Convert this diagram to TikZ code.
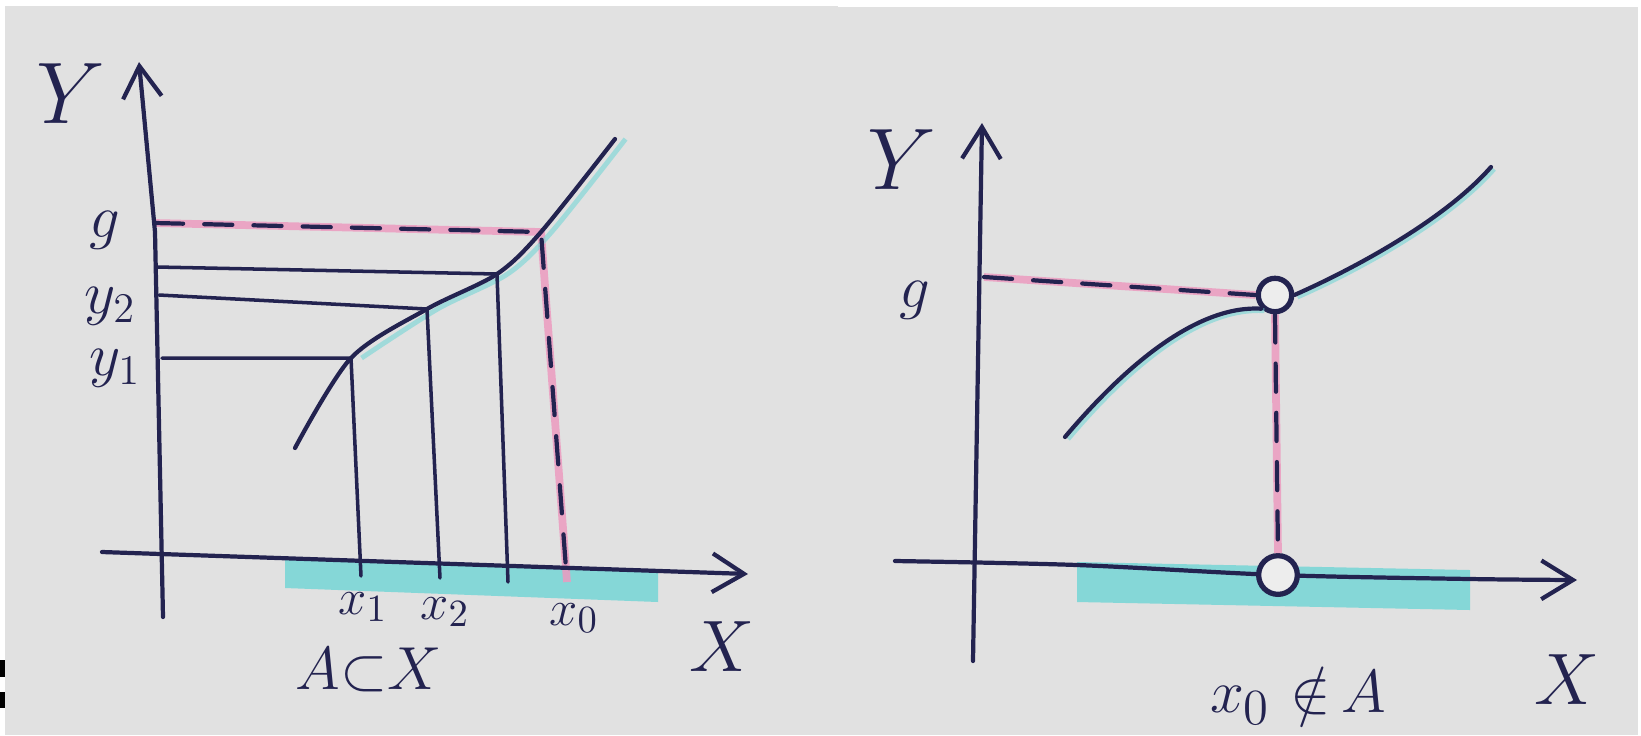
\documentclass[tikz,border=0pt]{standalone}
\usetikzlibrary{positioning,arrows.meta}
\definecolor{ink}{RGB}{35,35,80}
\definecolor{paper}{RGB}{225,225,225}
\definecolor{hlpink}{RGB}{236,155,192}
\definecolor{hlcyan}{RGB}{118,214,214}
\begin{document}
\begin{tikzpicture}[x=0.01cm, y=-0.01cm,
    pen/.style={draw=ink, line width=1.2pt, line cap=round, line join=round},
    axis/.style={pen, -{Straight Barb[length=9pt, width=11pt]}},
    guide/.style={pen, line width=1pt},
    pinkmark/.style={draw=hlpink, line width=2.2pt, opacity=0.85},
    dashedink/.style={pen, dash pattern=on 8pt off 6pt},
    halo/.style={draw=hlcyan, line width=1.4pt, opacity=0.6},
    band/.style={fill=hlcyan, opacity=0.85},
    hole/.style={circle, draw=ink, line width=1.5pt, fill=paper!60!white, inner sep=0pt},
    lbl/.style={text=ink, inner sep=0pt, font=\fontsize{17}{20}\selectfont},
    small/.style={text=ink, inner sep=0pt, font=\fontsize{15}{18}\selectfont},
    big/.style={text=ink, inner sep=0pt, font=\fontsize{24}{28}\selectfont}
]
  % Paper
  \fill[white] (0,0) rectangle (1641,735);
  \fill[paper] (5,6) rectangle (838,735);
  \fill[paper] (838,7) rectangle (1638,735);
  \fill[black] (0,660) rectangle (5,677);
  \fill[black] (0,692) rectangle (5,708);

  % ---------- left picture ----------
  \coordinate (lyb) at (163,617);
  \coordinate (lym) at (155,232);
  \coordinate (lyt) at (139,62);
  \coordinate (lxl) at (102,552);
  \coordinate (lxr) at (748,574);
  % curve points
  \coordinate (c0) at (295,448);
  \coordinate (p1) at (351,358);
  \coordinate (p2) at (427,309);
  \coordinate (p3) at (497,274);
  \coordinate (p0) at (541,232);
  \coordinate (c5) at (615,139);
  % ends on the axes
  \coordinate (hg) at (155,223);
  \coordinate (h3) at (157,267);
  \coordinate (h2) at (159,295);
  \coordinate (h1) at (162,358);
  \coordinate (t1) at (361,576);
  \coordinate (t2) at (440,578);
  \coordinate (t3) at (508,582);
  \coordinate (t0) at (567,582);
  % highlight of A
  \fill[band] (285,558) -- (658,571) -- (658,602) -- (285,588) -- cycle;
  % pink marks under the dashed lines
  \draw[pinkmark] (hg) -- (p0) -- (t0);
  \draw[halo] plot[smooth] coordinates {([xshift=3]p1) ([xshift=3]p2) ([xshift=3]p3) ([xshift=3]p0) ([xshift=3]c5)};
  % axes
  \draw[axis] (lyb) -- (lym) -- (lyt);
  \draw[axis] (lxl) -- (lxr);
  % curve
  \draw[pen] plot[smooth] coordinates {(c0) (p1) (p2) (p3) (p0) (c5)};
  % guide lines
  \draw[guide] (h1) -- (p1) -- (t1);
  \draw[guide] (h2) -- (p2) -- (t2);
  \draw[guide] (h3) -- (p3) -- (t3);
  \draw[dashedink] (hg) -- (p0) -- (t0);
  % labels
  \node[big] (lY) at (71,94) {$Y$};
  \node[lbl] (lX) at (722,647) {\fontsize{21}{24}\selectfont$X$};
  \node[lbl] (lg) at (105,230) {$g$};
  \node[lbl] (ly2) at (110,306) {$y_2$};
  \node[lbl] (ly1) at (115,368) {$y_1$};
  \node[small] (lx1) at (363,607) {$x_1$};
  \node[small] (lx2) at (445,612) {$x_2$};
  \node[small] (lx0) at (574,618) {$x_0$};
  \node[lbl] (lset) at (369,670) {\fontsize{19}{22}\selectfont$A{\subset}X$};

  % ---------- right picture ----------
  \coordinate (ryb) at (973,661);
  \coordinate (ryt) at (982,123);
  \coordinate (rxl) at (895,561);
  \coordinate (rxa) at (1077,565);
  \coordinate (rxb) at (1278,575);
  \coordinate (rxc) at (1470,579);
  \coordinate (rxr) at (1577,580);
  \coordinate (rg) at (984,277);
  \coordinate (rc0) at (1065,437);
  \coordinate (rc5) at (1491,167);
  % highlight of A
  \fill[band] (1077,562) -- (1470,570) -- (1470,610) -- (1077,602) -- cycle;
  % axes
  \draw[axis] (ryb) -- (ryt);
  \draw[axis] plot[smooth] coordinates {(rxl) (rxa) (rxb) (rxc) (rxr)};
  % open points
  \node[hole, minimum size=9.5pt] (top) at (1275,295) {};
  \node[hole, minimum size=11pt] (bot) at (1278,575) {};
  % curve, two branches
  \draw[halo] ([shift={(3,2)}]rc0) .. controls (1133,362) and (1203,307) .. ([shift={(3,2)}]top.south west);
  \draw[halo] ([shift={(3,2)}]top.east) .. controls (1343,277) and (1443,227) .. ([shift={(3,2)}]rc5);
  \draw[pen] (rc0) .. controls (1130,360) and (1200,305) .. (top.south west);
  \draw[pen] (top.east) .. controls (1340,275) and (1440,225) .. (rc5);
  % dashed guides
  \draw[pinkmark] (rg) -- (top.west);
  \draw[pinkmark] (top.south) -- (bot.north);
  \draw[dashedink] (rg) -- (top.west);
  \draw[dashedink] (top.south) -- (bot.north);
  % labels
  \node[big] (rY) at (902,160) {$Y$};
  \node[lbl] (rX) at (1567,680) {\fontsize{21}{24}\selectfont$X$};
  \node[lbl] (rgl) at (915,300) {$g$};
  \node[lbl] (rset) at (1298,696) {\fontsize{19}{22}\selectfont$x_0\mkern6mu{\notin}\mkern3mu A$};
\end{tikzpicture}
\end{document}
